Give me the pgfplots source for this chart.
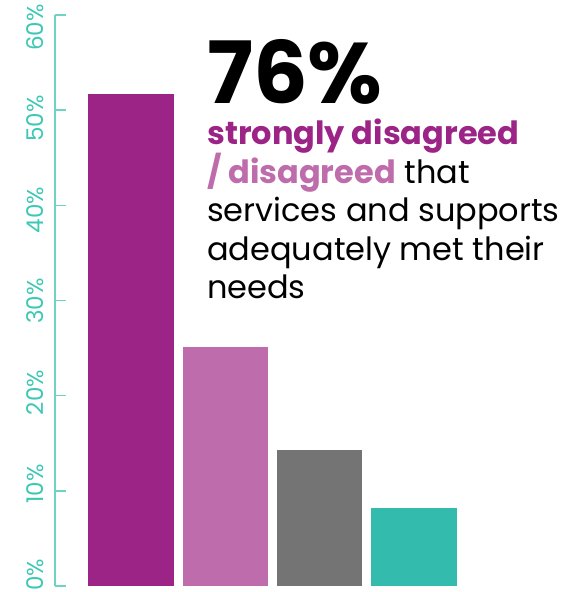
\documentclass[border=0pt]{standalone}
\usepackage{fontspec}
\setmainfont{Poppins}
\usepackage{pgfplots}
\pgfplotsset{compat=1.18}
\definecolor{purp}{HTML}{9C2486}
\definecolor{pinkc}{HTML}{BE6CAB}
\definecolor{greyc}{HTML}{737473}
\definecolor{tealc}{HTML}{33BBAD}
\definecolor{teallab}{HTML}{3CC8B4}
\definecolor{tealline}{HTML}{6ED3C3}
\begin{document}
\begin{tikzpicture}[x=1pt,y=1pt]
\useasboundingbox (0,0) rectangle (570,592);
\begin{axis}[
  at={(55pt,6pt)}, anchor=south west,
  scale only axis, width=406pt, height=571pt,
  xmin=-0.806, xmax=3.5, ymin=0, ymax=60,
  axis x line=none, axis y line=left,
  axis line style={-, tealline, line width=1.5pt},
  ytick={0,10,20,30,40,50,60},
  yticklabels={0\%,10\%,20\%,30\%,40\%,50\%,60\%},
  tick align=inside, major tick length=11pt,
  tick style={tealline, line width=1.5pt},
  yticklabel style={font=\fontsize{23}{23}\selectfont, text=teallab, xshift=-11pt, yshift={11-0.39*\tick}, rotate=90, anchor=south, inner sep=0pt},
  ybar, bar width=85.5pt, bar shift=0pt,
  clip=false,
]
\addplot[fill=purp, draw=none] coordinates {(0,51.7)};
\addplot[fill=pinkc, draw=none] coordinates {(1,25.1)};
\addplot[fill=greyc, draw=none] coordinates {(2,14.3)};
\addplot[fill=tealc, draw=none] coordinates {(3,8.2)};
\end{axis}
\node[anchor=base west, inner sep=0pt, text depth=0pt, font=\fontsize{86}{86}\selectfont\bfseries] at (207,488) {76\%};
\begin{scope}[every node/.style={anchor=base west, inner sep=0pt, font=\fontsize{32}{32}\selectfont}]
\node at (207,447) {\textcolor{purp}{\bfseries strongly disagreed}};
\node at (207,408.5) {\textcolor{pinkc}{\bfseries / disagreed} that};
\node at (207,370) {services and supports};
\node at (207,331.5) {adequately met their};
\node at (207,293) {needs};
\end{scope}
\end{tikzpicture}
\end{document}
